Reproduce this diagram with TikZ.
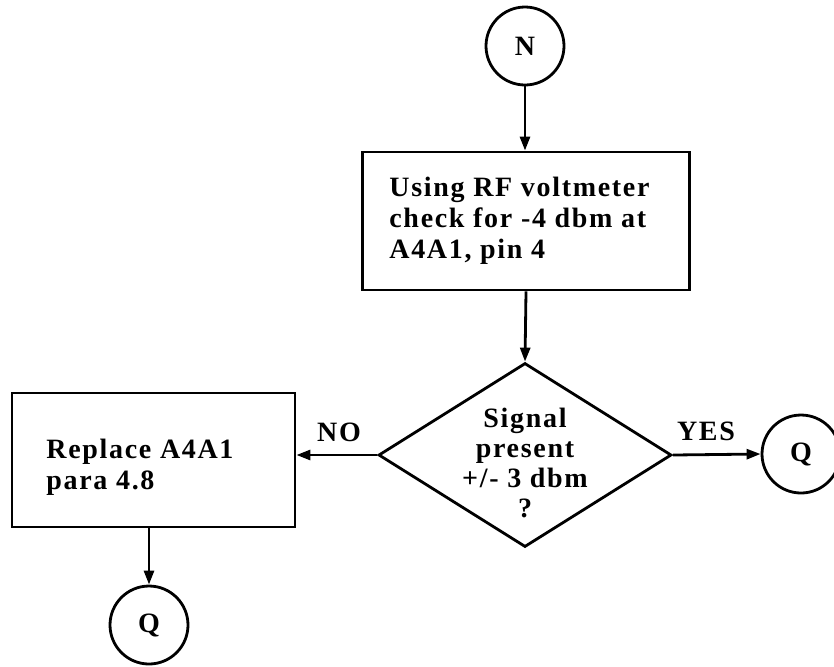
\documentclass[tikz,border=0pt]{standalone}
\usepackage{fontspec}
\setmainfont{Liberation Serif}[LetterSpace=6]
\usetikzlibrary{shapes.geometric,arrows.meta}
\begin{document}
\begin{tikzpicture}[x=0.5pt,y=-0.5pt, line width=1.4pt,
  every node/.style={font=\fontsize{14}{15.5}\selectfont\bfseries},
  conn/.style={circle,draw,minimum size=39pt,inner sep=0pt},
  box/.style={draw,rectangle,inner sep=0pt},
  decision/.style={diamond,draw,inner sep=0pt,minimum width=146.5pt,minimum height=92pt},
  txt/.style={inner sep=0pt,align=left,anchor=west},
  lbl/.style={inner sep=0pt},
  arr/.style={-{Triangle[length=7pt,width=5pt]}}]
\useasboundingbox (0,0) rectangle (834,666);
\node[conn] (N) at (525,46) {N};
\node[box, minimum width=163.5pt, minimum height=69pt] (B1) at (526,221) {};
\node[txt] (B1t) at (388,221) {Using RF voltmeter\\check for -4 dbm at\\A4A1, pin 4};
\node[decision] (D) at (525,455) {};
\node[lbl, align=center, font=\fontsize{14}{15}\selectfont\bfseries] (Dt) at (525,463) {Signal\\present\\+/- 3 dbm\\?};
\node[box, minimum width=141.5pt, minimum height=67pt] (B2) at (153.5,460) {};
\node[txt] (B2t) at (45,467) {Replace A4A1\\para 4.8};
\node[conn] (Q1) at (801,454) {Q};
\node[conn] (Q2) at (149,625) {Q};
\node[lbl] (NO) at (339,432) {NO};
\node[lbl] (YES) at (706,431) {YES};
\draw[arr] (N) -- (N |- B1.north);
\draw[arr] (B1.south) -- (D.north);
\draw[arr] (D.west) -- (D.west -| B2.east);
\draw[arr] (D.east) -- (Q1.west);
\draw[arr] (Q2.north |- B2.south) -- (Q2.north);
\end{tikzpicture}
\end{document}
